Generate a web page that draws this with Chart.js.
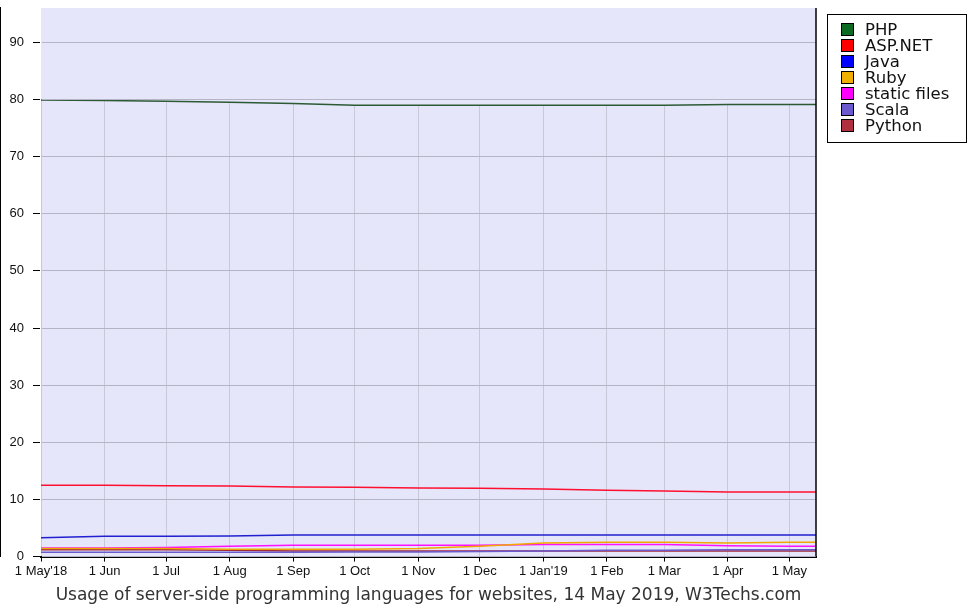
<!DOCTYPE html>
<html>
<head>
<meta charset="utf-8">
<script src="https://cdn.jsdelivr.net/npm/chart.js@4"></script>
<style>
html, body { margin: 0; padding: 0; background: #fff; }
</style>
</head>
<body>
<canvas id="myChart" width="971" height="611"></canvas>
<script>
// Дни от 1 May 2018 (точки данных) и подписи оси X
let dayOffsets = [0, 31, 61, 92, 123, 153, 184, 214, 245, 276, 304, 335, 365, 378];
let tickDays = [0, 31, 61, 92, 123, 153, 184, 214, 245, 276, 304, 335, 365];
let tickLabels = ["1 May'18", '1 Jun', '1 Jul', '1 Aug', '1 Sep', '1 Oct', '1 Nov', '1 Dec', "1 Jan'19", '1 Feb', '1 Mar', '1 Apr', '1 May'];
let yTicks = [0, 10, 20, 30, 40, 50, 60, 70, 80, 90];

// Ряды (% сайтов)
let languages = ['PHP', 'ASP.NET', 'Java', 'Ruby', 'static files', 'Scala', 'Python'];
let php = [79.9, 79.8, 79.7, 79.5, 79.3, 79.0, 79.0, 79.0, 79.0, 79.0, 79.0, 79.1, 79.1, 79.1];
let aspnet = [12.5, 12.5, 12.4, 12.35, 12.2, 12.15, 12.0, 11.95, 11.85, 11.6, 11.5, 11.3, 11.3, 11.3];
let java = [3.3, 3.55, 3.55, 3.6, 3.8, 3.8, 3.8, 3.8, 3.8, 3.8, 3.8, 3.8, 3.8, 3.8];
let ruby = [1.4, 1.4, 1.4, 1.3, 1.3, 1.3, 1.4, 1.8, 2.4, 2.5, 2.5, 2.4, 2.5, 2.5];
let staticFiles = [1.5, 1.5, 1.6, 1.8, 2.0, 2.0, 2.0, 2.0, 2.1, 2.1, 2.1, 1.9, 1.8, 1.8];
let scala = [0.75, 0.75, 0.75, 0.75, 0.75, 0.8, 0.8, 0.9, 1.0, 1.1, 1.1, 1.2, 1.2, 1.2];
let python = [1.2, 1.2, 1.2, 1.1, 1.0, 1.0, 1.0, 1.0, 1.0, 1.0, 1.0, 1.0, 1.0, 1.0];

let seriesValues = [php, aspnet, java, ruby, staticFiles, scala, python];
let lineColors = ['#2c5a34', '#ff1030', '#2020d0', '#f0a800', '#ff10ff', '#6a5acd', '#a02838'];
let legendColors = ['#0c6a22', '#ff0000', '#0000ff', '#f0b000', '#ff00ff', '#6a5acd', '#b03040'];
let plotBg = '#e6e6fa';

function points(values) {
    return values.map((v, i) => ({ x: dayOffsets[i], y: v }));
}

let datasets = languages.map((name, i) => ({
    label: name,
    data: points(seriesValues[i]),
    borderColor: lineColors[i],
    borderWidth: 1.5,
    pointRadius: 0,
    tension: 0,
    fill: false
}));
// PHP закрашивает верх, чтобы вертикальная сетка была только под линией
datasets[0].fill = 'end';
datasets[0].backgroundColor = plotBg;

// Фон области графика, рамка справа и легенда
let framePlugin = {
    id: 'frame',
    beforeDraw(chart) {
        let a = chart.chartArea, ctx = chart.ctx;
        ctx.save();
        ctx.fillStyle = plotBg;
        ctx.fillRect(a.left, a.top, a.right - a.left, a.bottom - a.top);
        ctx.restore();
    },
    afterDraw(chart) {
        let a = chart.chartArea, ctx = chart.ctx;
        ctx.save();
        ctx.strokeStyle = '#000';
        ctx.lineWidth = 1.5;
        ctx.beginPath();
        ctx.moveTo(a.right, a.top);
        ctx.lineTo(a.right, a.bottom);
        ctx.stroke();

        // легенда
        ctx.fillStyle = '#fff';
        ctx.fillRect(827.5, 14.5, 139, 128);
        ctx.lineWidth = 1;
        ctx.strokeRect(827.5, 14.5, 139, 128);
        ctx.font = '16.5px "DejaVu Sans"';
        ctx.textBaseline = 'middle';
        languages.forEach((name, i) => {
            let cy = 29.5 + i * 16;
            ctx.fillStyle = legendColors[i];
            ctx.fillRect(841, cy - 6.5, 13, 13);
            ctx.strokeStyle = '#000';
            ctx.strokeRect(841.5, cy - 6, 12, 12);
            ctx.fillStyle = '#111';
            ctx.fillText(name, 865, cy + 1);
        });
        ctx.restore();
    }
};

let ctx = document.getElementById('myChart').getContext('2d');
let myChart = new Chart(ctx, {
    type: 'line',
    data: { datasets: datasets },
    plugins: [framePlugin],
    options: {
        responsive: false,
        animation: false,
        layout: { padding: { top: 8, right: 155, bottom: 0, left: 0 } },
        scales: {
            x: {
                type: 'linear',
                min: 0,
                max: 378,
                afterBuildTicks: scale => { scale.ticks = tickDays.map(v => ({ value: v })); },
                afterFit: scale => { scale.height = 29; },
                ticks: {
                    autoSkip: false,
                    maxRotation: 0,
                    padding: 2,
                    color: '#111',
                    font: { family: '"Liberation Sans"', size: 13 },
                    callback: (v) => tickLabels[tickDays.indexOf(v)]
                },
                grid: { color: '#c8c8d8', tickColor: '#000', tickLength: 5, lineWidth: 1 },
                border: { color: '#000', width: 2 }
            },
            y: {
                min: 0,
                max: 96,
                afterBuildTicks: scale => { scale.ticks = yTicks.map(v => ({ value: v })); },
                afterFit: scale => { scale.width = 41; scale.paddingTop = 0; scale.paddingBottom = 0; },
                ticks: {
                    padding: 9,
                    color: '#111',
                    font: { family: '"Liberation Sans"', size: 13 }
                },
                grid: { color: '#b4b4c4', tickColor: '#000', tickLength: 8, lineWidth: 1, z: 1 },
                border: { color: '#000', width: 2 }
            }
        },
        plugins: {
            legend: { display: false },
            tooltip: { enabled: false },
            title: {
                display: true,
                position: 'bottom',
                fullSize: false,
                text: 'Usage of server-side programming languages for websites, 14 May 2019, W3Techs.com',
                color: '#333',
                font: { family: '"DejaVu Sans"', size: 17, weight: 'normal' },
                padding: { top: 0, bottom: 5 }
            }
        }
    }
});
</script>
</body>
</html>
